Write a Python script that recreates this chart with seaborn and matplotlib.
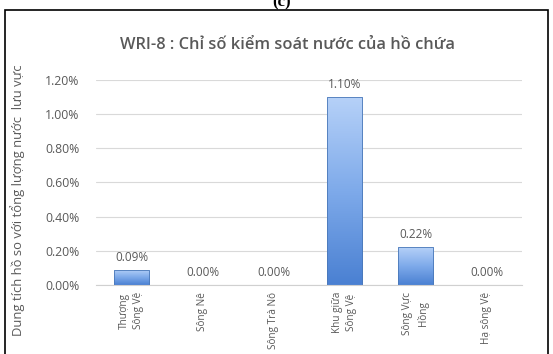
import numpy as np
import pandas as pd
import matplotlib
matplotlib.use("Agg")
import matplotlib.pyplot as plt
from matplotlib.colors import LinearSegmentedColormap
from matplotlib.patches import Rectangle
import seaborn as sns

# Data: reservoir water-control index (% of basin water volume)
categories = ["Thượng\nSông Vệ", "Sông Nê", "Sông Trà Nô",
              "Khu giữa\nSông Vệ", "Sông Vực\nHồng", "Hạ sông Vệ"]
values = [0.09, 0.00, 0.00, 1.10, 0.22, 0.00]
yticks = [0.0, 0.2, 0.4, 0.6, 0.8, 1.0, 1.2]

sns.set_theme(style="white")
plt.rcParams["font.family"] = ["Open Sans", "DejaVu Sans"]

W, H = 553, 354
fig = plt.figure(figsize=(W / 100, H / 100), dpi=100)
ax = fig.add_axes([96 / W, 1 - 285 / H, (522 - 96) / W, (285 - 80) / H])

df = pd.DataFrame({"cat": categories, "val": values})
sns.barplot(data=df, x="cat", y="val", ax=ax, width=0.5,
            color="#5b8fd9", edgecolor="#4a78b8", linewidth=0.6)

# vertical gradient fill clipped to each bar
cmap = LinearSegmentedColormap.from_list("barfill", ["#4a80d2", "#7eaaea", "#b6d1f8"])
grad = np.linspace(0, 1, 256).reshape(-1, 1)
for p in list(ax.patches):
    x0, y0 = p.get_x(), p.get_y()
    w, h = p.get_width(), p.get_height()
    if h <= 0:
        continue
    im = ax.imshow(grad, cmap=cmap, aspect="auto", origin="lower",
                   extent=[x0, x0 + w, y0, y0 + h], zorder=p.get_zorder() + 0.1)
    im.set_clip_path(p)
    ax.add_patch(Rectangle((x0, y0), w, h, fill=False, edgecolor="#4a78b8",
                           linewidth=0.6, zorder=p.get_zorder() + 0.2))
ax.set_xlim(-0.5, len(categories) - 0.5)
ax.set_ylim(0, 1.2)

# value labels
for i, v in enumerate(values):
    ax.text(i, v + 0.035, f"{v:.2f}%", ha="center", va="bottom",
            fontsize=8.5, color="#595959")

ax.set_yticks(yticks)
ax.set_yticklabels([f"{t:.2f}%" for t in yticks], fontsize=8.8, color="#595959")
ax.yaxis.grid(True, color="#d9d9d9", linewidth=0.8)
ax.set_axisbelow(True)
ax.tick_params(axis="y", length=0, pad=12)
ax.set_xticks(range(len(categories)))
ax.set_xticklabels(categories, rotation=90, fontsize=7.2, color="#595959",
                   va="top", ha="center", multialignment="center")
for lbl in ax.get_xticklabels():
    lbl.set_linespacing(1.45)
ax.tick_params(axis="x", length=0, pad=5)
ax.set_xlabel("")
ax.set_ylabel("")
for s in ["top", "right", "left"]:
    ax.spines[s].set_visible(False)
ax.spines["bottom"].set_color("#d0d0d0")
ax.spines["bottom"].set_linewidth(0.8)

fig.text(18 / W, 1 - 200 / H, "Dung tích hồ so với tổng lượng nước  lưu vực",
         rotation=90, ha="center", va="center", fontsize=9.4, color="#595959")
fig.text(288 / W, 1 - 45 / H, "WRI-8 : Chỉ số kiểm soát nước của hồ chứa",
         ha="center", va="center", fontsize=11.8, color="#595959", fontweight="semibold")

# outer frame with caption just above it
fig.add_artist(Rectangle((5 / W, -0.05), (548 - 5) / W, 1.05 - 10 / H,
                         transform=fig.transFigure, fill=False,
                         edgecolor="black", linewidth=1.2))
fig.text(282 / W, 1 - 2 / H, "(c)", ha="center", va="center",
         fontsize=12, color="black", fontweight="bold",
         family=["Liberation Serif", "DejaVu Serif"])

fig.savefig("out.png", dpi=100)
